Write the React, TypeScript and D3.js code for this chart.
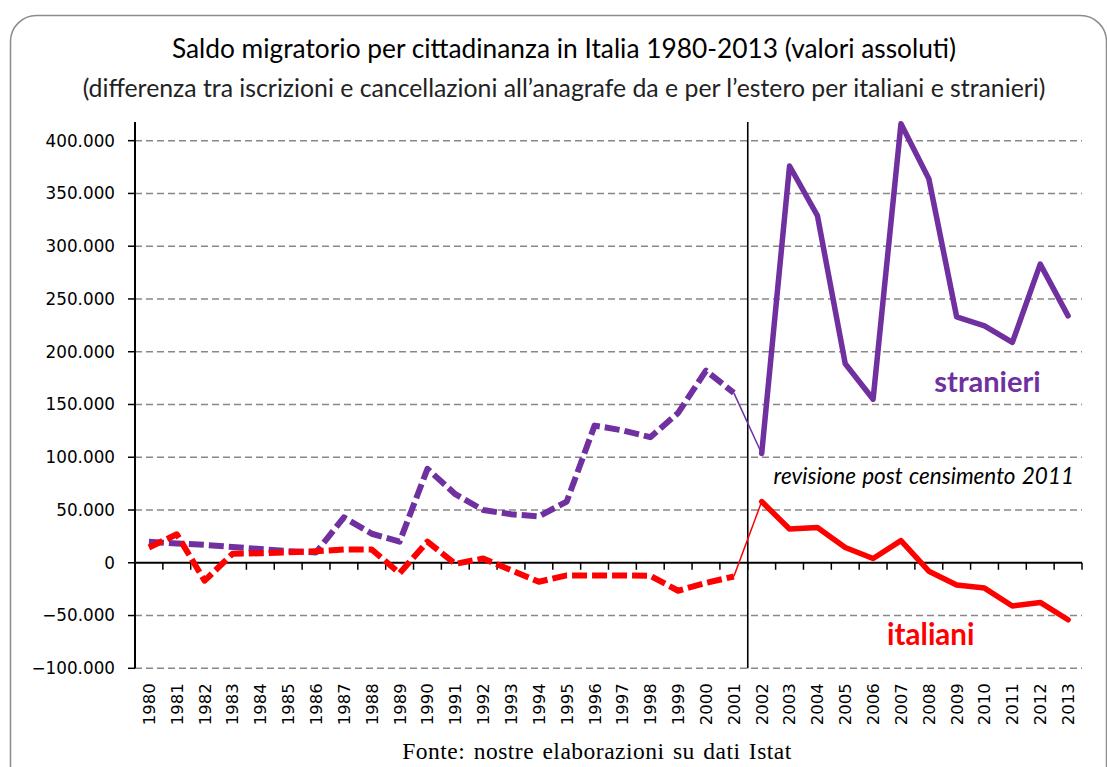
import React from "react";
import * as d3 from "d3";

const years = [
  "1980","1981","1982","1983","1984","1985","1986","1987","1988","1989",
  "1990","1991","1992","1993","1994","1995","1996","1997","1998","1999",
  "2000","2001","2002","2003","2004","2005","2006","2007","2008","2009",
  "2010","2011","2012","2013",
];

const stranieri = [
  20000, 18300, 17000, 15000, 13000, 11000, 9800, 43000, 27500, 20000,
  89000, 65000, 50000, 46000, 44000, 58000, 130000, 125500, 119000, 142000,
  182000, 161000, 103600, 376000, 329000, 188600, 155000, 416000, 364000, 233000,
  224600, 208800, 283000, 234000,
];

const italiani = [
  14500, 27000, -17000, 8500, 9000, 10000, 11000, 12500, 12500, -10000,
  20000, -1000, 4000, -7000, -18000, -12000, -12000, -12000, -12300, -26500,
  -19000, -13000, 58000, 32000, 33500, 14500, 4000, 21000, -8000, -21000,
  -24000, -41000, -37600, -54000,
];

const yTicks = [-100000, -50000, 0, 50000, 100000, 150000, 200000, 250000, 300000, 350000, 400000];

const breakYear = "2001";

const title = "Saldo migratorio per cittadinanza in Italia 1980-2013 (valori assoluti)";
const subtitle = "(differenza tra iscrizioni e cancellazioni all\u2019anagrafe da e per l\u2019estero per italiani e stranieri)";
const source = "Fonte: nostre elaborazioni su dati Istat";
const note = "revisione post censimento 2011";

const PURPLE = "#7030A0";
const RED = "#FF0000";

const fmt = (v: number) => {
  if (v === 0) return "0";
  const s = d3.format(",")(v);
  return s.replace(/,/g, ".");
};

export default function App() {
  const W = 1107;
  const H = 767;
  const left = 135;
  const right = 1082;
  const top = 122;
  const bottom = 668.3;

  const x = d3.scaleBand<string>().domain(years).range([left, right]).padding(0);
  const y = d3.scaleLinear().domain([-100000, 417700]).range([bottom, top]);
  const cx = (yr: string) => (x(yr) as number) + x.bandwidth() / 2;

  const bi = years.indexOf(breakYear);
  const line = d3
    .line<[string, number]>()
    .x((d) => cx(d[0]))
    .y((d) => y(d[1]));

  const seg = (vals: number[], a: number, b: number) =>
    line(years.slice(a, b + 1).map((yr, i) => [yr, vals[a + i]] as [string, number])) || "";

  const series = [
    { vals: stranieri, color: PURPLE },
    { vals: italiani, color: RED },
  ];

  const boundaries = d3.range(years.length + 1).map((i) => left + i * x.bandwidth());
  const breakX = (x(years[bi + 1]) as number);

  return (
    <svg
      width={W}
      height={H}
      style={{ position: "absolute", left: 0, top: 0, background: "#fff" }}
      xmlns="http://www.w3.org/2000/svg"
    >
      <rect x={10.5} y={15.5} width={1096} height={790} rx={26} ry={26} fill="#fff" stroke="#8c8c8c" strokeWidth={1.5} />

      <text x={564} y={58} textAnchor="middle" fontFamily="Lato" fontSize={26.3} fill="#000">
        {title}
      </text>
      <text x={564} y={97} textAnchor="middle" fontFamily="Lato" fontSize={24.8} fill="#222">
        {subtitle}
      </text>

      {/* gridlines */}
      {yTicks.filter((t) => t !== 0).map((t) => (
        <line
          key={"g" + t}
          x1={left}
          x2={right}
          y1={y(t)}
          y2={y(t)}
          stroke="#888"
          strokeWidth={1.4}
          strokeDasharray="7,4"
        />
      ))}

      {/* y axis */}
      <line x1={left} x2={left} y1={top} y2={bottom} stroke="#000" strokeWidth={2} />
      {yTicks.map((t) => (
        <g key={"t" + t}>
          <line x1={left - 7} x2={left} y1={y(t)} y2={y(t)} stroke="#000" strokeWidth={1.5} />
          <text
            x={left - 20}
            y={y(t)}
            dy="0.35em"
            textAnchor="end"
            fontFamily="DejaVu Sans"
            fontSize={16.8}
            fill="#000"
          >
            {fmt(t)}
          </text>
        </g>
      ))}

      {/* zero axis */}
      <line x1={left} x2={right} y1={y(0)} y2={y(0)} stroke="#000" strokeWidth={2} />
      {boundaries.map((bx, i) => (
        <line key={"xt" + i} x1={bx} x2={bx} y1={y(0)} y2={y(0) + 7} stroke="#000" strokeWidth={1.5} />
      ))}

      {/* break line */}
      <line x1={breakX} x2={breakX} y1={top} y2={bottom} stroke="#000" strokeWidth={1.6} />

      {/* x labels */}
      {years.map((yr) => (
        <text
          key={"xl" + yr}
          transform={`translate(${cx(yr)},${bottom + 15}) rotate(-90)`}
          textAnchor="end"
          dy="0.36em"
          fontFamily="DejaVu Sans"
          fontSize={16.5}
          fill="#000"
        >
          {yr}
        </text>
      ))}

      {/* series */}
      {series.map((s, k) => (
        <g key={"s" + k} fill="none" stroke={s.color}>
          <path d={seg(s.vals, 0, bi)} strokeWidth={6} strokeDasharray="15,5" strokeLinejoin="round" />
          <path d={seg(s.vals, bi, bi + 1)} strokeWidth={1.5} />
          <path d={seg(s.vals, bi + 1, years.length - 1)} strokeWidth={5.5} strokeLinejoin="round" strokeLinecap="round" />
        </g>
      ))}

      {/* annotations */}
      <text x={cx("2010") + 3} y={y(161900)} textAnchor="middle" fontFamily="Lato" fontWeight="bold" fontSize={29} fill={PURPLE}>
        stranieri
      </text>
      <text x={cx("2008") + 2} y={y(-78000)} textAnchor="middle" fontFamily="Lato" fontWeight="bold" fontSize={29.5} fill={RED}>
        italiani
      </text>
      <text x={(x("2003") as number) - 2} y={y(74700)} textAnchor="start" fontFamily="Lato" fontStyle="italic" fontSize={22.5} wordSpacing={1} fill="#000">
        {note}
      </text>

      <text x={597} y={759} textAnchor="middle" fontFamily="Liberation Serif" fontSize={23.5} letterSpacing={0.5} wordSpacing={2} fill="#000">
        {source}
      </text>
    </svg>
  );
}
